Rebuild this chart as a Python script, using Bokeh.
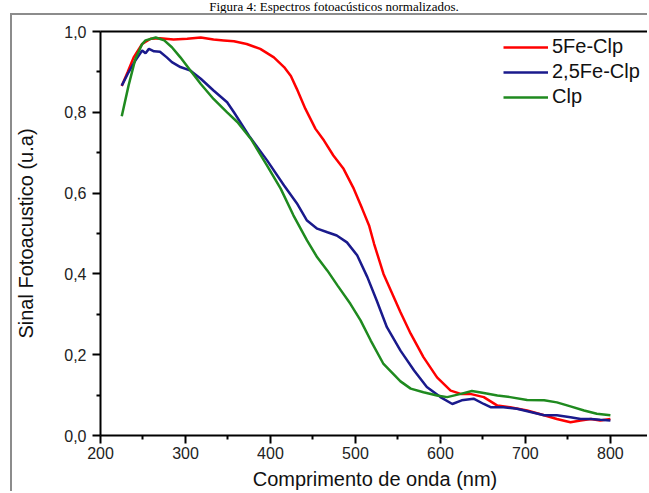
from bokeh.plotting import figure
from bokeh.models import (Range1d, FixedTicker, LinearAxis, Legend, LegendItem, Div)
from bokeh.layouts import column
from bokeh.embed import file_html
from bokeh.resources import INLINE

# ---- data ----
wl_red = [225, 232, 239, 249, 259, 270, 286, 302, 318, 333, 345, 357, 372, 388,
          404, 416, 424, 431, 441, 453, 463, 474, 486, 498, 508, 516, 522, 533,
          553, 565, 580, 596, 612, 624, 635, 651, 667, 682, 702, 722, 737, 753,
          765, 777, 788, 800]
red = [0.865, 0.900, 0.936, 0.969, 0.982, 0.983, 0.980, 0.982, 0.985, 0.980,
       0.978, 0.976, 0.969, 0.957, 0.936, 0.912, 0.890, 0.858, 0.809, 0.759,
       0.730, 0.693, 0.660, 0.611, 0.561, 0.520, 0.474, 0.400, 0.305, 0.252,
       0.194, 0.144, 0.111, 0.103, 0.103, 0.095, 0.074, 0.070, 0.062, 0.050,
       0.041, 0.033, 0.037, 0.041, 0.037, 0.041]

wl_blue = [225, 233, 241, 249, 253, 257, 263, 270, 278, 284, 294, 306, 318, 333,
           349, 357, 376, 396, 416, 431, 443, 455, 467, 478, 490, 502, 514, 525,
           537, 553, 569, 584, 600, 614, 625, 639, 651, 659, 674, 690, 706, 722,
           737, 753, 765, 777, 788, 800]
blue = [0.866, 0.899, 0.928, 0.953, 0.946, 0.957, 0.951, 0.950, 0.936, 0.924,
        0.912, 0.903, 0.883, 0.854, 0.825, 0.800, 0.738, 0.681, 0.619, 0.575,
        0.532, 0.512, 0.503, 0.495, 0.478, 0.446, 0.392, 0.334, 0.268, 0.210,
        0.161, 0.120, 0.095, 0.078, 0.087, 0.091, 0.078, 0.070, 0.070, 0.066,
        0.058, 0.050, 0.050, 0.045, 0.041, 0.041, 0.039, 0.037]

wl_green = [225, 233, 241, 249, 253, 265, 275, 284, 294, 306, 318, 333, 349,
            361, 377, 396, 412, 427, 443, 455, 467, 479, 494, 506, 518, 533,
            553, 565, 580, 596, 608, 624, 637, 651, 667, 682, 702, 722, 737,
            753, 769, 784, 800]
green = [0.790, 0.866, 0.932, 0.969, 0.978, 0.985, 0.978, 0.961, 0.936, 0.903,
         0.870, 0.833, 0.800, 0.776, 0.734, 0.668, 0.611, 0.545, 0.483, 0.441,
         0.408, 0.371, 0.326, 0.285, 0.235, 0.177, 0.134, 0.116, 0.107, 0.099,
         0.095, 0.103, 0.110, 0.105, 0.099, 0.095, 0.088, 0.087, 0.082, 0.072,
         0.062, 0.054, 0.050]

series_names = ["5Fe-Clp", "2,5Fe-Clp", "Clp"]
x_ticks = [200, 300, 400, 500, 600, 700, 800]
x_minor = [250, 350, 450, 550, 650, 750]
y_ticks = [0.0, 0.2, 0.4, 0.6, 0.8, 1.0]
y_tick_labels = ["0,0", "0,2", "0,4", "0,6", "0,8", "1,0"]
y_minor = [0.1, 0.3, 0.5, 0.7, 0.9]

title_text = "Figura 4: Espectros fotoacústicos normalizados."
x_label = "Comprimento de onda (nm)"
y_label = "Sinal Fotoacustico (u.a)"

FONT = "Liberation Sans"

title_div = Div(text=title_text, width=630, height=13, margin=(0, 0, 0, 19),
                styles={"font-family": "Liberation Serif", "font-size": "13px",
                        "line-height": "13px", "text-align": "center",
                        "color": "black", "overflow": "hidden"})

p = figure(width=637, height=478, x_range=Range1d(200, 846), y_range=Range1d(0, 1.0),
           output_backend="svg", toolbar_location=None,
           min_border_left=88, min_border_right=0, min_border_top=16,
           min_border_bottom=58)
p.margin = (0, 0, 0, 10)
p.styles = {"border-left": "2px solid #8c8c8c", "border-top": "2px solid #8c8c8c"}
p.outline_line_color = None
p.grid.visible = False
p.background_fill_color = "white"
p.border_fill_color = "white"

p.xaxis.ticker = FixedTicker(ticks=x_ticks, minor_ticks=x_minor)
p.yaxis.ticker = FixedTicker(ticks=y_ticks, minor_ticks=y_minor)
p.yaxis.major_label_overrides = {t: s for t, s in zip(y_ticks, y_tick_labels)}

for ax in (p.xaxis[0], p.yaxis[0]):
    ax.axis_line_width = 2
    ax.axis_line_color = "black"
    ax.major_tick_line_width = 2
    ax.minor_tick_line_width = 2
    ax.major_tick_out = 8
    ax.major_tick_in = 0
    ax.minor_tick_out = 4
    ax.minor_tick_in = 0
    ax.major_label_text_font = FONT
    ax.major_label_text_font_size = "16px"
    ax.major_label_text_color = "#222222"
    ax.axis_label_text_font = FONT
    ax.axis_label_text_font_size = "20px"
    ax.axis_label_text_font_style = "normal"
    ax.axis_label_text_color = "#111111"

p.xaxis.axis_label = x_label
p.yaxis.axis_label = y_label
p.xaxis.major_label_standoff = 3
p.xaxis.axis_label_standoff = 6
p.yaxis.major_label_standoff = 6
p.yaxis.axis_label_standoff = 24

top_axis = LinearAxis(ticker=FixedTicker(ticks=[]), axis_line_width=2,
                      axis_line_color="black", major_tick_line_color=None,
                      minor_tick_line_color=None)
p.add_layout(top_axis, "above")

r_red = p.line(wl_red, red, line_color="#ff0000", line_width=2.5)
r_blue = p.line(wl_blue, blue, line_color="#1a1a8c", line_width=2.5)
r_green = p.line(wl_green, green, line_color="#1f8a1f", line_width=2.5)

legend = Legend(items=[LegendItem(label=series_names[0], renderers=[r_red]),
                       LegendItem(label=series_names[1], renderers=[r_blue]),
                       LegendItem(label=series_names[2], renderers=[r_green])],
                location=(403, 327))
legend.label_text_font = FONT
legend.label_text_font_size = "20px"
legend.label_text_color = "#111111"
legend.glyph_width = 45
legend.glyph_height = 22
legend.label_height = 22
legend.label_standoff = 4
legend.spacing = 2
legend.padding = 0
legend.margin = 0
legend.border_line_color = None
legend.background_fill_alpha = 0
p.add_layout(legend)

layout = column(title_div, p, spacing=0)

open("out.html", "w").write(file_html(layout, INLINE))
